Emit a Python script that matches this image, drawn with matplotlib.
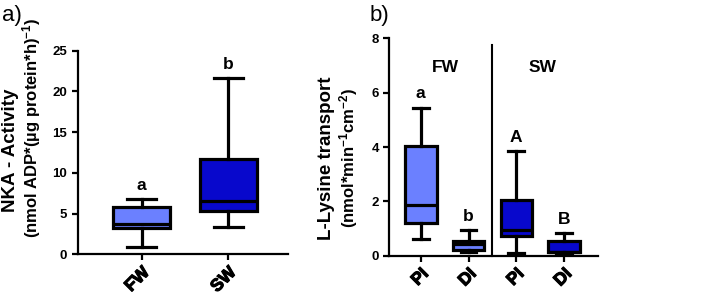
import matplotlib
matplotlib.use("Agg")
import matplotlib.pyplot as plt
import matplotlib.patheffects as pe

plt.rcParams['font.family'] = ['Liberation Sans', 'DejaVu Sans']
plt.rcParams['font.weight'] = 'bold'
plt.rcParams['mathtext.fontset'] = 'custom'
plt.rcParams['mathtext.rm'] = 'Liberation Sans:bold'
plt.rcParams['mathtext.bf'] = 'Liberation Sans:bold'
plt.rcParams['mathtext.default'] = 'bf'

# Panel a data
a_labels = ["FW", "SW"]
a_whislo = [0.93, 3.4]
a_q1 = [3.27, 5.35]
a_med = [3.75, 6.55]
a_q3 = [5.85, 11.67]
a_whishi = [6.75, 21.6]
a_letters = ["a", "b"]
a_letter_y = [8.5, 23.3]

# Panel b data
b_labels = ["PI", "DI", "PI", "DI"]
b_whislo = [0.61, 0.15, 0.09, 0.03]
b_q1 = [1.21, 0.22, 0.74, 0.12]
b_med = [1.86, 0.42, 0.94, 0.15]
b_q3 = [4.04, 0.55, 2.04, 0.55]
b_whishi = [5.44, 0.94, 3.85, 0.85]
b_letters = ["a", "b", "A", "B"]
b_letter_y = [5.98, 1.46, 4.36, 1.35]
groups = ["FW", "SW"]

light = "#6b80ff"
dark = "#0808cc"

W, H = 709, 306
fig = plt.figure(figsize=(7.09, 3.06), dpi=100)
ax1 = fig.add_axes([0.1096, 0.169, 0.2966, 0.6654])
ax2 = fig.add_axes([0.549, 0.1644, 0.2944, 0.7104])

LW = 2.3

def draw(ax, lo, q1, med, q3, hi, colors):
    stats = [dict(whislo=lo[i], q1=q1[i], med=med[i], q3=q3[i], whishi=hi[i], fliers=[])
             for i in range(len(lo))]
    bp = ax.bxp(stats, positions=list(range(len(lo))), widths=0.66, patch_artist=True,
                showfliers=False, capwidths=0.33, manage_ticks=False,
                boxprops=dict(linewidth=LW, edgecolor='black'),
                medianprops=dict(linewidth=LW, color='black'),
                whiskerprops=dict(linewidth=LW, color='black'),
                capprops=dict(linewidth=LW, color='black'))
    for p, c in zip(bp['boxes'], colors):
        p.set_facecolor(c)

def style(ax, xlabels):
    for s in ['top', 'right']:
        ax.spines[s].set_visible(False)
    for s in ['left', 'bottom']:
        ax.spines[s].set_linewidth(1.6)
    ax.tick_params(axis='both', width=1.6, length=4)
    ax.tick_params(axis='y', labelsize=9.5)
    ax.set_xticks(range(len(xlabels)))
    labs = ax.set_xticklabels(xlabels, rotation=45, ha='right', rotation_mode='anchor',
                              fontsize=12.5, fontweight='bold')
    for lab in labs:
        lab.set_path_effects([pe.withStroke(linewidth=0.8, foreground='black')])

def ylab(x, y, s, size):
    fig.text(x / W, 1 - y / H, s, rotation=90, rotation_mode='anchor',
             ha='center', va='baseline', fontsize=size, fontweight='bold')

# Panel a
draw(ax1, a_whislo, a_q1, a_med, a_q3, a_whishi, [light, dark])
ax1.set_xlim(-0.74, 1.69)
ax1.set_ylim(0, 25)
ax1.set_yticks([0, 5, 10, 15, 20, 25])
style(ax1, a_labels)
for i, (t, y) in enumerate(zip(a_letters, a_letter_y)):
    ax1.text(i, y, t, ha='center', va='center', fontsize=12.5, fontweight='bold')
ylab(15.5, 150, "NKA - Activity", 13.5)
ylab(37, 128, "(nmol ADP*(µg protein*h)$^{-1}$)", 12)

# Panel b
draw(ax2, b_whislo, b_q1, b_med, b_q3, b_whishi, [light, light, dark, dark])
ax2.set_xlim(-0.66, 3.71)
ax2.set_ylim(0, 8)
ax2.set_yticks([0, 2, 4, 6, 8])
style(ax2, b_labels)
ax2.plot([1.5, 1.5], [0, 7.77], color='black', linewidth=1.5, clip_on=False)
for i, (t, y) in enumerate(zip(b_letters, b_letter_y)):
    ax2.text(i, y, t, ha='center', va='center', fontsize=12.5, fontweight='bold')
for gx, g in zip([0.52, 2.55], groups):
    ax2.text(gx, 6.94, g, ha='center', va='center', fontsize=12.5, fontweight='bold')
ylab(331, 158, "L-Lysine transport", 13.5)
ylab(354, 158, "(nmol*min$^{-1}$cm$^{-2}$)", 12)

fig.text(0.003, 0.985, "a)", fontsize=16, fontweight='normal', ha='left', va='top')
fig.text(0.521, 0.985, "b)", fontsize=16, fontweight='normal', ha='left', va='top')

fig.savefig("out.png", dpi=100)
